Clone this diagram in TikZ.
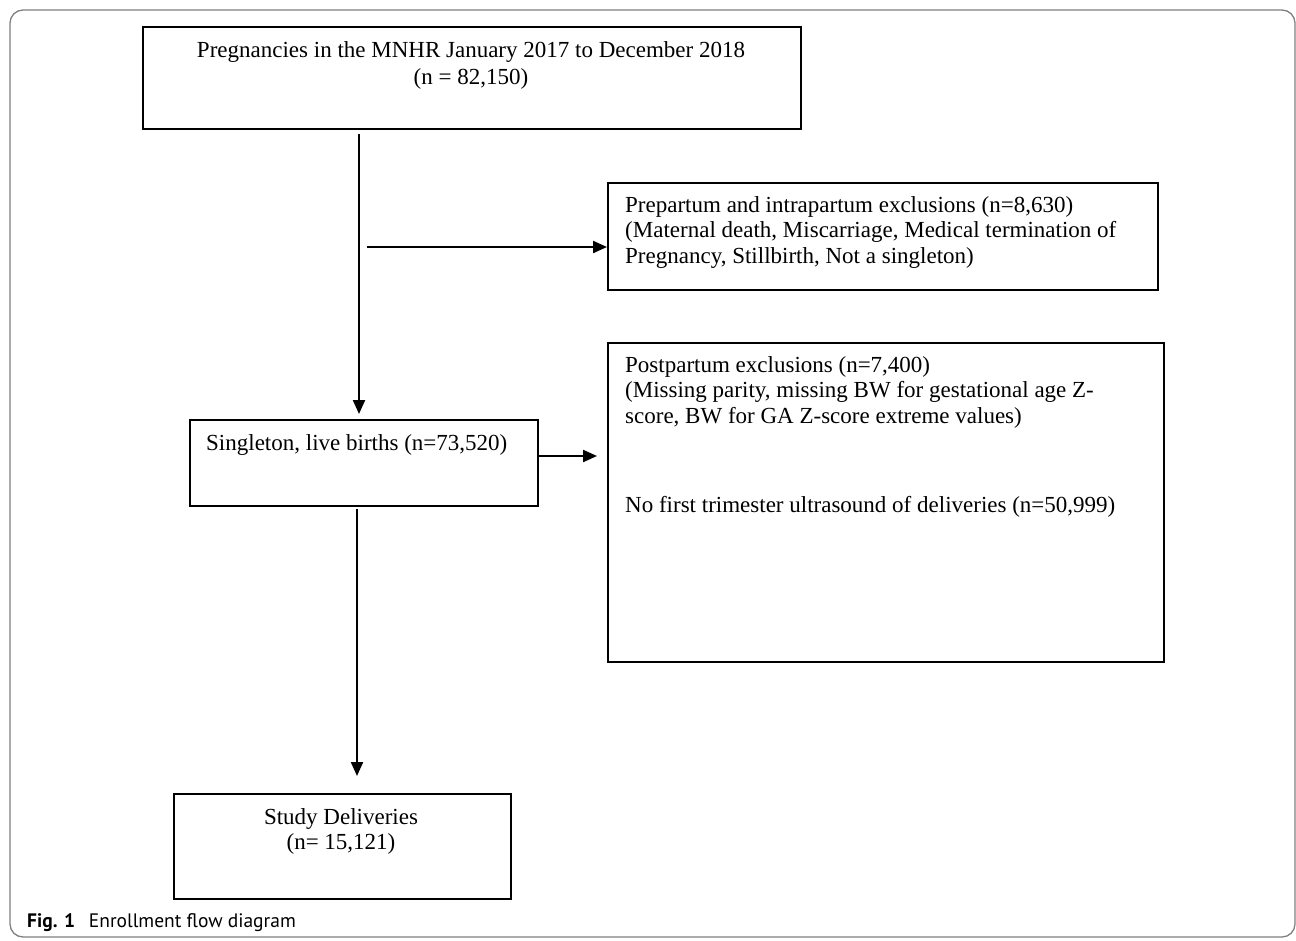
\documentclass[tikz,border=0pt]{standalone}
\usepackage{fontspec}
\setmainfont{Liberation Serif}
\setsansfont{PT Sans}
\usetikzlibrary{arrows.meta}

\tikzset{
  box/.style={draw, line width=1.9pt, inner sep=0pt, anchor=north west},
  boxtext/.style={inner sep=0pt, font=\fontsize{23}{25.5}\selectfont},
  arr/.style={line width=2.2pt, -{Triangle[length=14pt,width=12pt]}},
}

\begin{document}
\begin{tikzpicture}[x=1pt, y=-1pt]
\useasboundingbox (0,0) rectangle (1296,940);

% Frame round the figure
\draw[gray, line width=1.3pt, rounded corners=13pt] (10,10) rectangle (1295,937);

% Boxes
\node[box, minimum width=658pt, minimum height=102pt] (preg) at (142,26) {};
\node[box, minimum width=550pt, minimum height=107pt] (excl) at (607,182) {};
\node[box, minimum width=348pt, minimum height=86pt] (single) at (189,419) {};
\node[box, minimum width=556pt, minimum height=319pt] (post) at (607,342) {};
\node[box, minimum width=337pt, minimum height=105pt] (study) at (173,793) {};

% Texts in the boxes
\node[boxtext, align=center, anchor=north, font=\fontsize{23}{27}\selectfont] (pregtext) at (471,41)
  {Pregnancies in the MNHR January 2017 to December 2018\\(n = 82,150)};
\node[boxtext, align=left, anchor=north west] (excltext) at (625,196)
  {Prepartum and intrapartum exclusions (n=8,630)\\
   (Maternal death, Miscarriage, Medical termination of\\
   Pregnancy, Stillbirth, Not a singleton)};
\node[boxtext, anchor=north west] (singletext) at (206,434)
  {Singleton, live births (n=73,520)};
\node[boxtext, align=left, anchor=north west] (posttext) at (625,356)
  {Postpartum exclusions (n=7,400)\\
   (Missing parity, missing BW for gestational age Z-\\
   score, BW for GA Z-score extreme values)\\[64pt]
   No first trimester ultrasound of deliveries (n=50,999)};
\node[boxtext, align=center, anchor=north] (studytext) at (341,808)
  {Study Deliveries\\(n= 15,121)};

% Connectors
\coordinate (mainx) at (359,0);
\coordinate (lowx) at (357,0);
\coordinate (split) at (367,247);
\coordinate (sidey) at (0,456);
\draw[arr, shorten <=4pt, shorten >=5pt] (preg.south -| mainx) -- (single.north -| mainx);
\draw[arr] (split) -- (split -| excl.west);
\draw[arr, shorten >=10pt] (single.east |- sidey) -- (post.west |- sidey);
\draw[arr, shorten <=2pt, shorten >=17pt] (single.south -| lowx) -- (study.north -| lowx);

% Caption
\node[anchor=base west, inner sep=0pt, font=\sffamily\fontsize{19.5}{22}\selectfont] (caption) at (27,927)
  {\textbf{Fig. 1}\hspace{0.7em}Enrollment flow diagram};
\end{tikzpicture}
\end{document}
